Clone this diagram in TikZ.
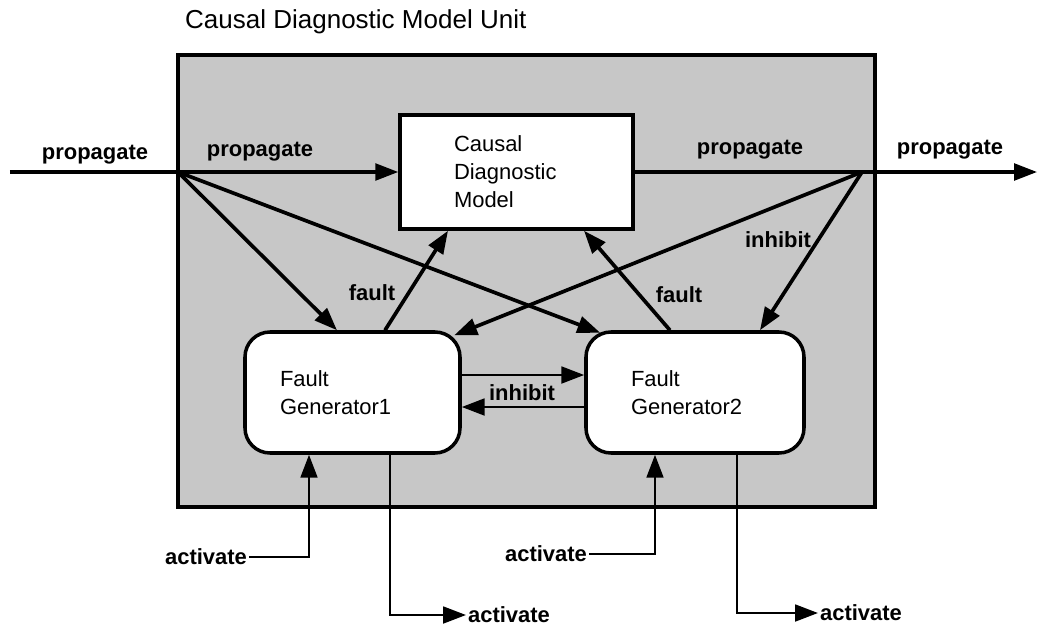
\documentclass[tikz,border=0pt]{standalone}
\usepackage{fontspec}
\setmainfont{Liberation Sans}
\usetikzlibrary{arrows.meta,positioning}

\tikzset{
  flow/.style={line width=2.1pt, -{Triangle[length=13pt,width=9.5pt]}},
  wire/.style={line width=1.8pt},
  lbl/.style={font=\fontsize{12.5}{15}\selectfont\bfseries, inner sep=1pt},
  unitbox/.style={draw, line width=2.4pt, fill=black!22},
  modelbox/.style={draw, line width=2pt, fill=white, align=left,
    font=\fontsize{12.5}{16}\selectfont},
  genbox/.style={draw, line width=2pt, fill=white, rounded corners=0.5cm,
    align=left, minimum height=2.42cm, font=\fontsize{12.5}{16}\selectfont}
}

\begin{document}
\begin{tikzpicture}
  \def\Ylin{-3.44};
  \def\Ygen{-7.85};

  \useasboundingbox (0,0) rectangle (20.74,-12.52);

  % unit frame and title
  \draw [unitbox] (3.56,-1.10) rectangle (17.50,-10.14);
  \node [anchor=west, font=\fontsize{14.8}{17}\selectfont] (title) at (3.58,-0.44)
        {Causal Diagnostic Model Unit};

  % boxes
  \node [modelbox, inner xsep=1.08cm, text width=2.5cm, minimum height=2.28cm]
        (cdm) at (10.33,\Ylin) {Causal\\Diagnostic\\Model};
  \node [genbox, inner xsep=0.7cm, text width=2.9cm] (fg1) at (7.05,\Ygen)
        {Fault\\Generator1\\[4pt]};
  \node [genbox, inner xsep=0.9cm, text width=2.56cm] (fg2) at (13.90,\Ygen)
        {Fault\\Generator2\\[8pt]};

  % branch points on the frame
  \coordinate (jin) at (3.56,\Ylin);
  \coordinate (jout) at (17.24,\Ylin);
  \coordinate (start) at (0.2,\Ylin);
  \coordinate (end) at (20.74,\Ylin);

  % propagate line
  \draw [wire] (start) -- (jin);
  \draw [flow, line width=1.8pt] (jin) -- (cdm.west);
  \draw [wire] (cdm.east) -- (jout);
  \draw [flow, line width=1.8pt] (jout) -- (end);

  % fan out
  \draw [flow] (jin) -- ([xshift=-0.31cm]fg1.north);
  \draw [flow] (jin) -- ([xshift=0.32cm,yshift=-0.05cm]fg2.north west);
  \draw [flow] (jout) -- ([xshift=-0.15cm,yshift=-0.1cm]fg1.north east);
  \draw [flow] (jout) -- ([xshift=1.3cm]fg2.north);

  % faults back to the model
  \draw [flow] ([xshift=0.65cm]fg1.north) -- ([xshift=-1.37cm]cdm.south);
  \draw [flow] ([xshift=-0.5cm]fg2.north) -- ([xshift=1.35cm]cdm.south);

  % mutual inhibit
  \draw [flow, line width=1.6pt] ([yshift=0.35cm]fg1.east) -- ([yshift=0.35cm]fg2.west);
  \draw [flow, line width=1.6pt] ([yshift=-0.29cm]fg2.west) -- ([yshift=-0.29cm]fg1.east);

  % labels
  \node [lbl] (pin) at (1.90,-3.10) {propagate};
  \node [lbl] (pcdm) at (5.20,-3.04) {propagate};
  \node [lbl] (pfr) at (15.00,-3.00) {propagate};
  \node [lbl] (pout) at (19.00,-3.00) {propagate};
  \node [lbl] (flt1) at (7.44,-5.86) {fault};
  \node [lbl] (flt2) at (13.58,-5.90) {fault};
  \node [lbl] (inh) at (15.56,-4.80) {inhibit};
  \node [lbl] (inhm) at (10.44,-7.86) {inhibit};

  % activate in and out
  \node [lbl, anchor=east] (act1in) at (4.98,-11.14) {activate};
  \node [lbl, anchor=west] (act1out) at (9.32,-12.30) {activate};
  \node [lbl, anchor=east] (act2in) at (11.78,-11.08) {activate};
  \node [lbl, anchor=west] (act2out) at (16.36,-12.26) {activate};

  \draw [flow, line width=1.5pt] (act1in.east) -| ([xshift=-0.87cm]fg1.south);
  \draw [flow, line width=1.5pt] ([xshift=0.75cm]fg1.south) |- (act1out.west);
  \draw [flow, line width=1.5pt] (act2in.east) -| ([xshift=-0.80cm]fg2.south);
  \draw [flow, line width=1.5pt] ([xshift=0.84cm]fg2.south) |- (act2out.west);

\end{tikzpicture}
\end{document}
